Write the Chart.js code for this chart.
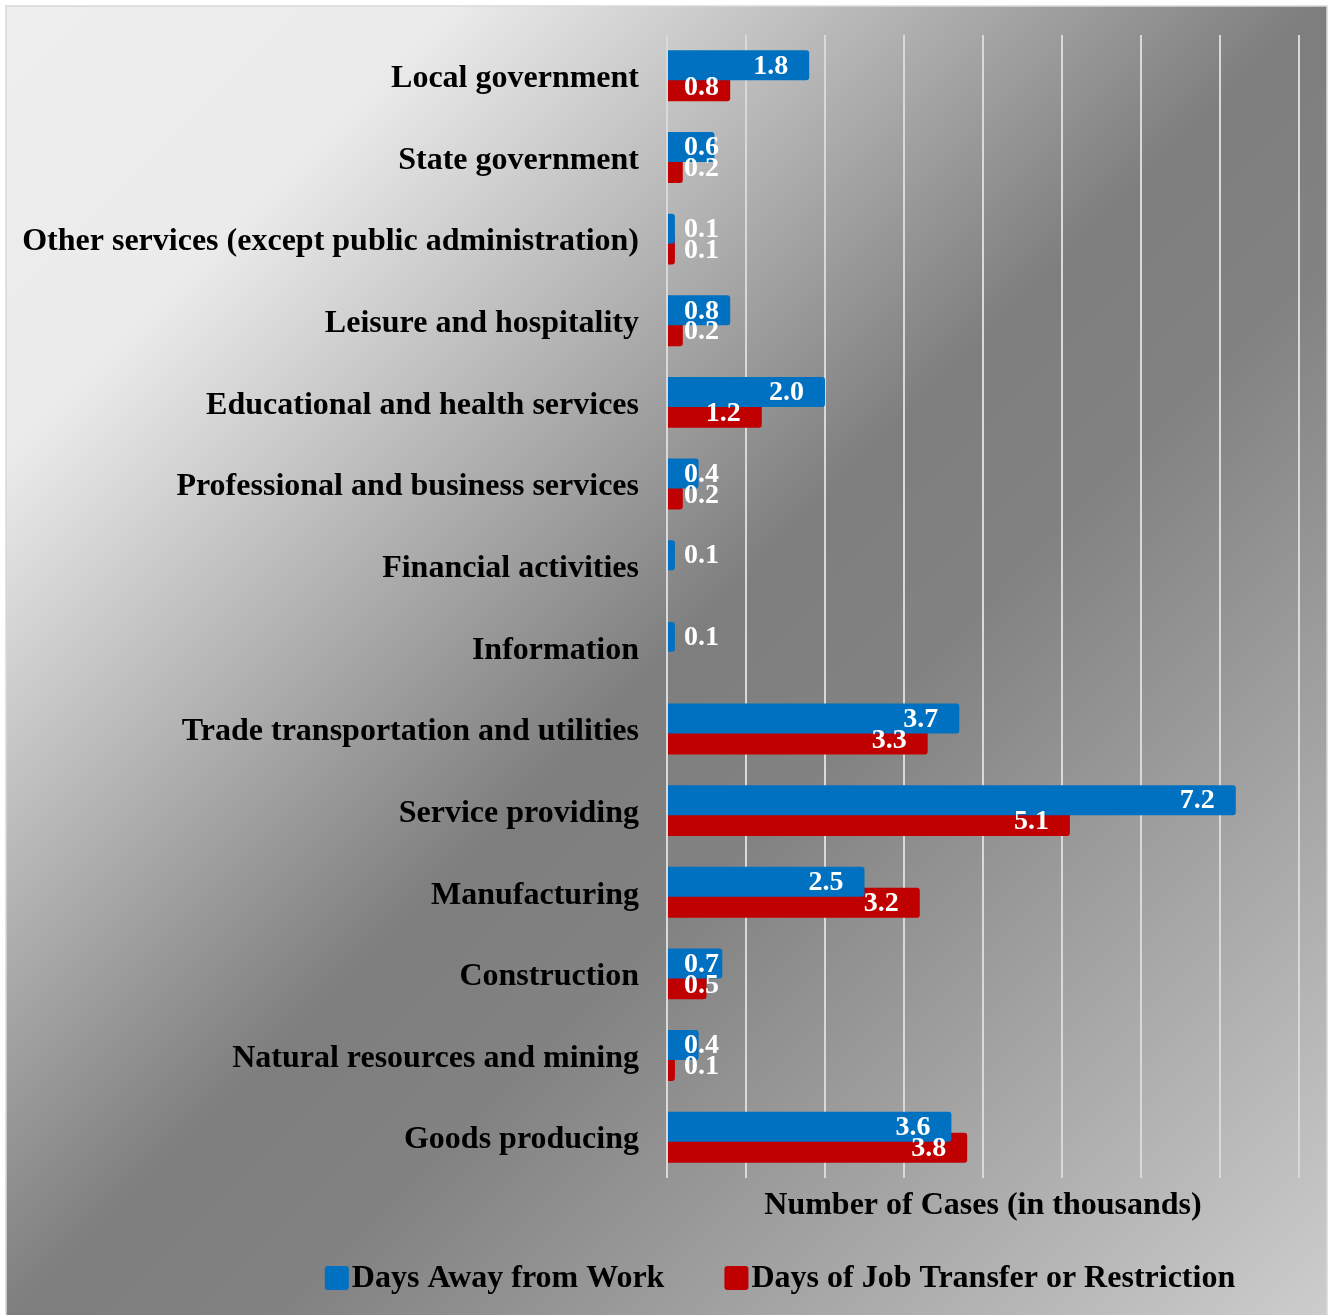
<!DOCTYPE html>
<html><head><meta charset="utf-8">
<script src="https://cdn.jsdelivr.net/npm/chart.js@4.4.0/dist/chart.umd.min.js"></script>
<style>html,body{margin:0;padding:0;background:#fff;overflow:hidden}#wrap{width:1328px;height:1315px;position:relative}</style>
</head><body><div id="wrap"><canvas id="c" width="1328" height="1315"></canvas></div>
<script>
const categories = [
  'Local government',
  'State government',
  'Other services (except public administration)',
  'Leisure and hospitality',
  'Educational and health services',
  'Professional and business services',
  'Financial activities',
  'Information',
  'Trade transportation and utilities',
  'Service providing',
  'Manufacturing',
  'Construction',
  'Natural resources and mining',
  'Goods producing'
];
const daysAwayFromWork = [1.8, 0.6, 0.1, 0.8, 2.0, 0.4, 0.1, 0.1, 3.7, 7.2, 2.5, 0.7, 0.4, 3.6];
const daysJobTransfer  = [0.8, 0.2, 0.1, 0.2, 1.2, 0.2, null, null, 3.3, 5.1, 3.2, 0.5, 0.1, 3.8];
const seriesNames = ['Days Away from Work', 'Days of Job Transfer or Restriction'];
const seriesColors = ['#0070C0', '#C00000'];
const axisTitle = 'Number of Cases (in thousands)';
const xMin = 0, xMax = 8, xStep = 1;

const FONT = '"Liberation Serif", "Times New Roman", serif';

const bgPlugin = {
  id: 'bg',
  beforeDraw(chart) {
    const ctx = chart.ctx, W = chart.width, H = chart.height;
    ctx.save();
    ctx.fillStyle = '#ffffff';
    ctx.fillRect(0, 0, W, H);
    const x0 = 6, y0 = 6, x1 = 1327, y1 = 1320;
    const g = ctx.createLinearGradient(x0, y0, x1, y1);
    g.addColorStop(0, '#eeeeee');
    g.addColorStop(0.17, '#ebebeb');
    g.addColorStop(0.5, '#7e7e7e');
    g.addColorStop(0.6, '#828282');
    g.addColorStop(1, '#cdcdcd');
    ctx.fillStyle = g;
    ctx.fillRect(x0, y0, x1 - x0, y1 - y0);
    ctx.strokeStyle = '#d9d9d9';
    ctx.lineWidth = 1.5;
    ctx.strokeRect(x0, y0, x1 - x0, y1 - y0);
    ctx.restore();
  }
};

const labelPlugin = {
  id: 'barLabels',
  afterDatasetsDraw(chart) {
    const ctx = chart.ctx;
    ctx.save();
    ctx.font = 'bold 28px ' + FONT;
    ctx.fillStyle = '#ffffff';
    ctx.textBaseline = 'middle';
    ctx.textAlign = 'left';
    chart.data.datasets.forEach((ds, di) => {
      const meta = chart.getDatasetMeta(di);
      meta.data.forEach((el, i) => {
        const v = ds.data[i];
        if (v === null || v === undefined) return;
        const t = v.toFixed(1);
        const w = ctx.measureText(t).width;
        const left = Math.max(el.x - 21 - w, el.base + 16);
        ctx.fillText(t, left, el.y + 1);
      });
    });
    ctx.restore();
  }
};

const legendPlugin = {
  id: 'customLegend',
  afterDraw(chart) {
    const ctx = chart.ctx;
    ctx.save();
    ctx.font = 'bold 32px ' + FONT;
    ctx.textBaseline = 'middle';
    ctx.textAlign = 'left';
    const box = 24, gapText = 3, gapItem = 60, cy = 1278;
    const widths = seriesNames.map(n => ctx.measureText(n).width);
    let total = 0;
    widths.forEach((w, i) => { total += box + gapText + w + (i < widths.length - 1 ? gapItem : 0); });
    let x = 780 - total / 2;
    seriesNames.forEach((n, i) => {
      ctx.fillStyle = seriesColors[i];
      ctx.beginPath();
      ctx.roundRect(x, cy - box / 2, box, box, 3);
      ctx.fill();
      ctx.fillStyle = '#000000';
      ctx.fillText(n, x + box + gapText, cy + 1);
      x += box + gapText + widths[i] + gapItem;
    });
    ctx.restore();
  }
};

new Chart(document.getElementById('c'), {
  type: 'bar',
  data: {
    labels: categories,
    datasets: [
      { label: seriesNames[0], data: daysAwayFromWork, backgroundColor: seriesColors[0],
        borderRadius: 3, borderSkipped: 'start' },
      { label: seriesNames[1], data: daysJobTransfer, backgroundColor: seriesColors[1],
        borderRadius: 3, borderSkipped: 'start' }
    ]
  },
  options: {
    indexAxis: 'y',
    responsive: false,
    devicePixelRatio: 1,
    animation: false,
    categoryPercentage: 0.512,
    barPercentage: 1.435,
    layout: { padding: { top: 35, right: 29, bottom: 0, left: 0 } },
    plugins: { legend: { display: false }, tooltip: { enabled: false } },
    scales: {
      x: {
        type: 'linear', min: xMin, max: xMax,
        ticks: { display: false, stepSize: xStep },
        grid: { color: '#d9d9d9', lineWidth: 2, drawTicks: false },
        border: { display: false },
        title: { display: true, text: axisTitle, color: '#000000',
          font: { family: FONT, size: 32, weight: 'bold', lineHeight: 1.2 },
          padding: { top: 0, bottom: 90 } },
        afterFit(scale) { scale.height = 137; scale.paddingLeft = 0; scale.paddingRight = 0; }
      },
      y: {
        ticks: { color: '#000000', padding: 28, autoSkip: false, labelOffset: 3,
          font: { family: FONT, size: 32, weight: 'bold' } },
        grid: { display: false, drawTicks: false },
        border: { display: false },
        afterFit(scale) { scale.width = 667; scale.paddingTop = 0; scale.paddingBottom = 0; }
      }
    }
  },
  plugins: [bgPlugin, labelPlugin, legendPlugin]
});
</script>
</body></html>
